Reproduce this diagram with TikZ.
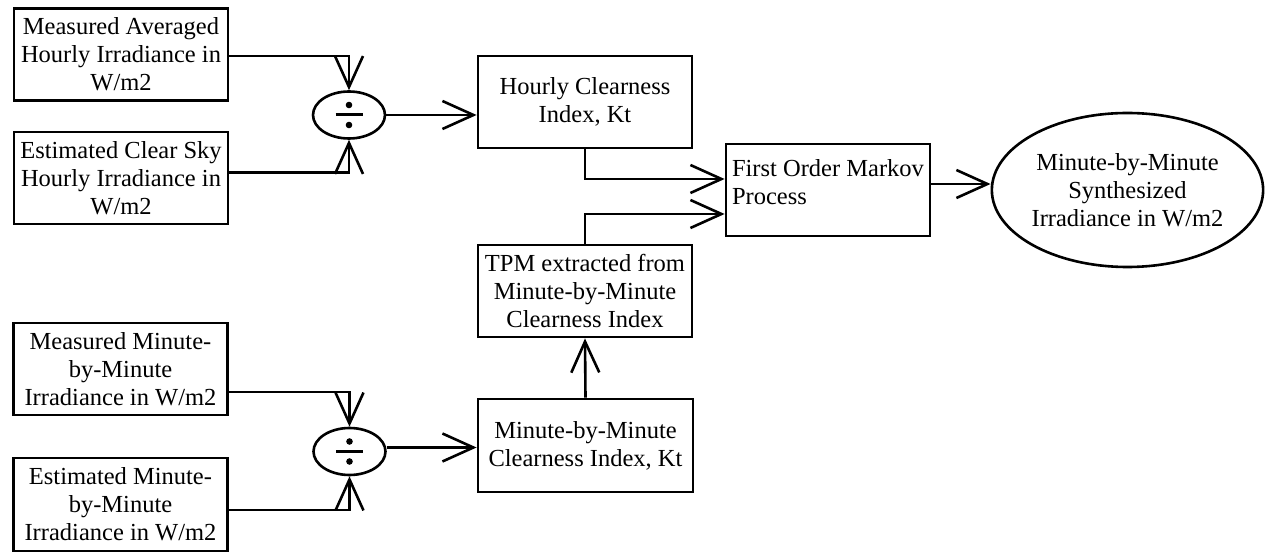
\documentclass[tikz,border=0pt]{standalone}
\usepackage{fontspec}
\setmainfont{Liberation Serif}
\usetikzlibrary{arrows.meta,shapes.geometric}
\begin{document}
\begin{tikzpicture}[x=1pt,y=-1pt,
  every node/.style={font=\fontsize{24.5}{28}\selectfont},
  box/.style={draw, line width=2.8pt, rectangle, align=center, inner sep=2pt},
  divnode/.style={draw, line width=2.6pt, ellipse, minimum width=72pt, minimum height=47pt, inner sep=0pt},
  outell/.style={draw, line width=2.6pt, ellipse, align=center, minimum width=221pt, minimum height=154pt, inner sep=0pt},
  arr/.style={line width=2.6pt, -{Straight Barb[length=31pt,width=28pt,line width=2.6pt]}},
  divbar/.style={line width=3pt},
  divdot/.style={fill=black}
]
\useasboundingbox (0,0) rectangle (1270,553);

\node[box, minimum width=214pt, minimum height=92pt] (A) at (121,54.5) {Measured Averaged\\Hourly Irradiance in\\W/m2};
\node[box, minimum width=214pt, minimum height=92pt] (B) at (121,178) {Estimated Clear Sky\\Hourly Irradiance in\\W/m2};
\node[divnode] (D1) at (349,115) {};

\node[box, minimum width=214pt, minimum height=92pt] (C) at (585,102) {Hourly Clearness\\Index, Kt};
\node[box, minimum width=204pt, minimum height=92pt, align=left, xshift=-1.5pt] (D) at (829.5,190) {First Order Markov\\Process\\[-13pt]\mbox{}};
\node[outell] (G) at (1127.5,190) {Minute-by-Minute\\Synthesized\\Irradiance in W/m2};

\node[box, minimum width=214pt, minimum height=92pt] (E) at (585,291) {TPM extracted from\\Minute-by-Minute\\Clearness Index};
\node[box, minimum width=215pt, minimum height=93pt] (F) at (585.5,445.5) {Minute-by-Minute\\Clearness Index, Kt};

\node[box, minimum width=214pt, minimum height=92pt] (H) at (120.5,369) {Measured Minute-\\by-Minute\\Irradiance in W/m2};
\node[box, minimum width=214pt, minimum height=93pt] (I) at (120.5,504.5) {Estimated Minute-\\by-Minute\\Irradiance in W/m2};
\node[divnode] (D2) at (349.5,451.5) {};

% division signs
\foreach \d in {D1,D2}{
  \draw[divbar] ([xshift=-13.5pt]\d.center) -- ([xshift=13.5pt]\d.center);
  \fill[divdot] ([yshift=10pt]\d.center) circle (3.3pt);
  \fill[divdot] ([yshift=-10pt]\d.center) circle (3.3pt);
}

\draw[arr] ([yshift=-1.5pt]A.east) -| (D1.north);
\draw[arr] ([yshift=5.5pt]B.east) -| (D1.south);
\draw[arr] (D1.east) -- (D1.east -| C.west);
\draw[arr] (C.south) |- ([yshift=11pt]D.west);
\draw[arr] (E.north) |- ([yshift=-24pt]D.west);
\draw[arr] ([yshift=6pt]D.east) -- ([yshift=6pt]D.east -| G.west);
\draw[arr] (F.north) -- (E.south);
\draw[arr] ([yshift=-23pt]H.east) -| (D2.north);
\draw[arr] ([yshift=-5.5pt]I.east) -| (D2.south);
\draw[arr] ([yshift=4pt]D2.east) -- ([yshift=4pt]D2.east -| F.west);
\end{tikzpicture}
\end{document}
